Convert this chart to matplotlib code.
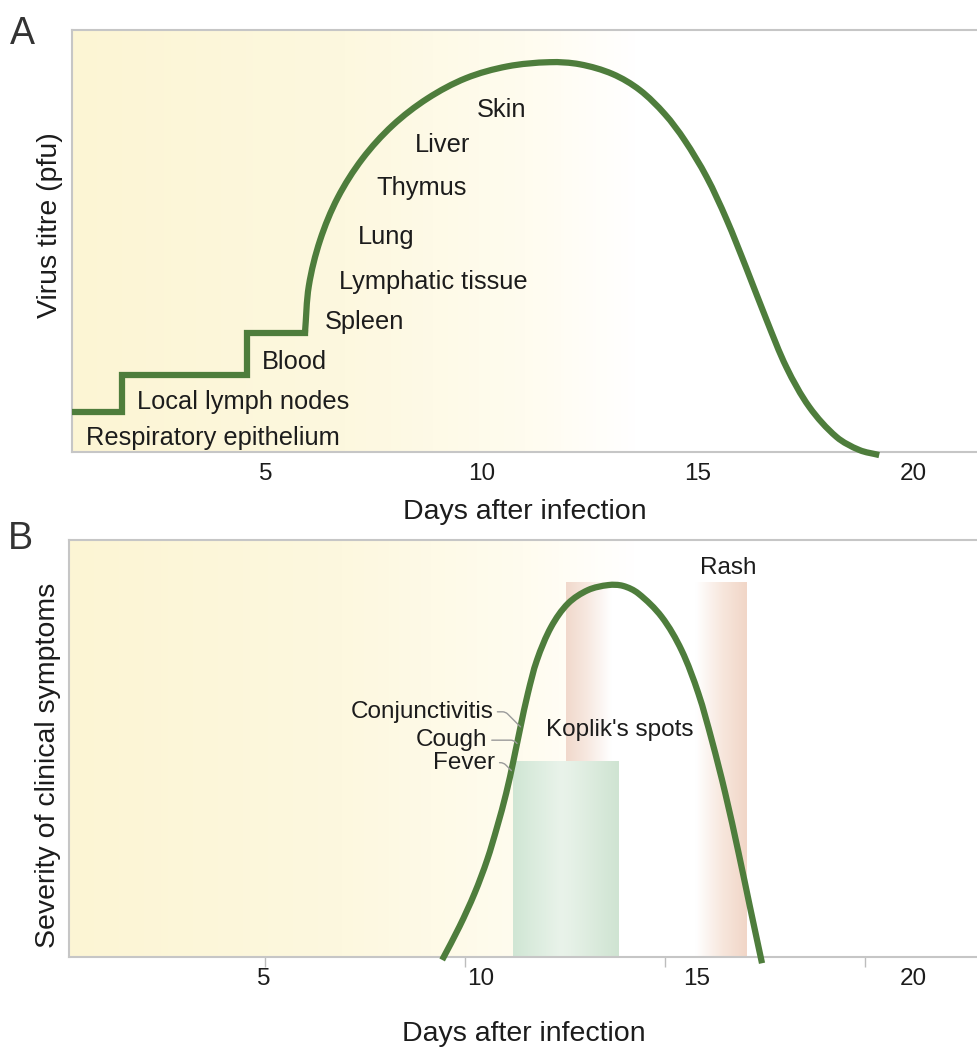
import numpy as np
import matplotlib
matplotlib.use("Agg")
import matplotlib.pyplot as plt
from matplotlib.colors import LinearSegmentedColormap
from matplotlib.path import Path
from matplotlib.patches import PathPatch

plt.rcParams['font.family'] = ['Liberation Sans', 'DejaVu Sans']

# ---- panel A : virus titre ----
step_days = [0.5, 1.67, 1.67, 4.56, 4.56, 5.9]
step_titre = [9.5, 9.5, 18.2, 18.2, 28.2, 28.2]

titre_days = [5.90, 5.99, 6.25, 6.66, 7.23, 7.93, 8.74, 9.63, 10.59, 11.57,
              12.27, 13.03, 13.66, 14.24, 14.70, 15.21, 15.67, 16.13, 16.60, 17.06,
              17.59, 18.22, 18.75, 19.21]
titre_vals = [28.2, 39.4, 50.2, 60.3, 69.5, 77.4, 83.8, 88.6, 91.4, 92.4,
              91.9, 89.6, 85.8, 80.1, 73.9, 65.2, 55.2, 43.6, 31.3, 20.1,
              10.7, 3.6, 0.5, -0.7]

organs = ['Respiratory epithelium', 'Local lymph nodes', 'Blood', 'Spleen',
          'Lymphatic tissue', 'Lung', 'Thymus', 'Liver', 'Skin']
organ_x = [0.82, 2.0, 4.9, 6.35, 6.7, 7.12, 7.56, 8.44, 9.88]
organ_y = [3.3, 11.8, 21.3, 30.8, 40.3, 50.9, 62.6, 72.7, 81.0]

# ---- panel B : clinical symptoms ----
sev_days = [9.12, 9.52, 9.87, 10.16, 10.39, 10.60, 10.77, 10.93, 11.10, 11.31, 11.64,
            12.03, 12.49, 12.96, 13.30, 13.65, 14.19, 14.65, 15.04, 15.35, 15.66,
            15.97, 16.23, 16.51]
sev_vals = [-0.7, 7.3, 15.3, 23.3, 31.2, 39.3, 47.2, 55.2, 63.2, 71.2, 79.2,
            84.8, 88.0, 89.2, 89.0, 87.2, 81.6, 73.6, 63.2, 52.0, 39.3,
            24.9, 12.1, -1.5]

koplik_span = (10.76, 13.19)
koplik_top = 46.8
rash_span = (11.99, 16.16)
rash_top = 89.9

symptoms = ['Conjunctivitis', 'Cough', 'Fever']
symptom_text_x = [10.3, 10.17, 10.35]
symptom_text_y = [58.8, 52.0, 46.6]
symptom_pt_x = [10.93, 10.85, 10.72]
symptom_pt_y = [55.2, 51.2, 44.7]

tick_days = [5, 10, 15, 20]
b_tick_marks = [5.02, 9.65, 14.26, 18.9]

green = '#4e7d3c'
grey = '#c6c6c6'
txt = '#1c1c1c'


def smooth_path(xs, ys, xscale=10.0):
    # cubic hermite through the read points (chord-length tangents), as bezier segments
    pts = np.column_stack([xs, ys]).astype(float)
    sc = np.array([xscale, 1.0])
    d = np.linalg.norm(np.diff(pts * sc, axis=0), axis=1)
    t = np.concatenate([[0], np.cumsum(d)])
    n = len(pts)
    tang = np.zeros_like(pts)
    for i in range(n):
        a, b = max(i - 1, 0), min(i + 1, n - 1)
        tang[i] = (pts[b] - pts[a]) / (t[b] - t[a])
    verts = [pts[0]]
    codes = [Path.MOVETO]
    for i in range(n - 1):
        h = t[i + 1] - t[i]
        verts += [pts[i] + tang[i] * h / 3, pts[i + 1] - tang[i + 1] * h / 3, pts[i + 1]]
        codes += [Path.CURVE4] * 3
    return Path(verts, codes)


fig = plt.figure(figsize=(9.78, 10.49), dpi=100)
axA = fig.add_axes([0.0736, 0.569, 1 - 0.0736, 0.4023])
axB = fig.add_axes([0.0706, 0.0877, 1 - 0.0706, 0.3975])

yellow_fade = LinearSegmentedColormap.from_list(
    'yf', [(0, '#fcf5d4'), (0.3, '#fdf8df'), (0.5, '#fffcef'), (0.62, '#ffffff'), (1, '#ffffff')])
grad = np.linspace(0, 1, 256).reshape(1, -1)

for ax in (axA, axB):
    ax.set_xlim(0.5, 21.5)
    ax.set_ylim(0, 100)
    ax.imshow(grad, cmap=yellow_fade, extent=(0, 1, 0, 1), transform=ax.transAxes,
              aspect='auto', zorder=0)
    for s in ('left', 'top', 'bottom'):
        ax.spines[s].set_color(grey)
        ax.spines[s].set_linewidth(1.5)
    ax.spines['right'].set_visible(False)
    ax.set_yticks([])
    ax.set_xticks(tick_days)
    ax.set_xticklabels([str(d) for d in tick_days], fontsize=17.5, color=txt)
    ax.tick_params(axis='x', length=0, pad=8)

# panel A
axA.plot(step_days, step_titre, color=green, lw=4.5, solid_joinstyle='miter', zorder=3)
axA.add_patch(PathPatch(smooth_path(titre_days, titre_vals), fill=False, edgecolor=green,
                        lw=4.5, capstyle='butt', clip_on=False, zorder=3))
for name, x, y in zip(organs, organ_x, organ_y):
    axA.text(x, y, name, fontsize=18.3, color=txt, va='center', ha='left', zorder=4)
axA.set_xlabel('Days after infection', fontsize=20.5, color=txt, labelpad=10)

# panel B
rash_cmap = LinearSegmentedColormap.from_list(
    'rash', [(0, '#f1d9cc'), (0.1, '#f6e6dd'), (0.25, '#ffffff'), (0.72, '#ffffff'),
             (0.87, '#f7e6dc'), (1, '#f1d6c7')])
axB.imshow(grad, cmap=rash_cmap, extent=(rash_span[0], rash_span[1], 0, rash_top),
           aspect='auto', zorder=1)
kop_cmap = LinearSegmentedColormap.from_list(
    'kop', [(0, '#d0e6d4'), (0.45, '#e9f3ea'), (0.55, '#e6f1e7'), (1, '#cfe4d2')])
axB.imshow(grad, cmap=kop_cmap, extent=(koplik_span[0], koplik_span[1], 0, koplik_top),
           aspect='auto', zorder=2)
axB.set_xlim(0.5, 21.5)
axB.set_ylim(0, 100)

axB.add_patch(PathPatch(smooth_path(sev_days, sev_vals), fill=False, edgecolor=green,
                        lw=4.5, capstyle='butt', clip_on=False, zorder=3))
axB.text(15.74, rash_top + 3.5, 'Rash', fontsize=17.5, color=txt,
         ha='center', va='center')
axB.text(11.53, 54.5, "Koplik's spots", fontsize=17.5, color=txt, ha='left', va='center',
         zorder=4)
for name, tx, ty, px, py in zip(symptoms, symptom_text_x, symptom_text_y,
                                symptom_pt_x, symptom_pt_y):
    axB.annotate(name, xy=(px, py), xytext=(tx, ty), fontsize=17.5, color=txt,
                 ha='right', va='center', zorder=4,
                 arrowprops=dict(arrowstyle='-', color='#9a9a9a', lw=1,
                                 shrinkA=1, shrinkB=0,
                                 connectionstyle='angle,angleA=0,angleB=135,rad=3'))
axB.set_xticks(b_tick_marks, minor=True)
axB.tick_params(axis='x', which='minor', length=7, width=1, color='#bdbdbd', direction='out')
axB.set_xlabel('Days after infection', fontsize=20.5, color=txt, labelpad=22)

fig.text(0.051, 0.785, 'Virus titre (pfu)', rotation=90, fontsize=20.5, color=txt,
         ha='center', va='center')
fig.text(0.049, 0.27, 'Severity of clinical symptoms', rotation=90, fontsize=20.5,
         color=txt, ha='center', va='center')
fig.text(0.010, 0.985, 'A', fontsize=27, color='#333333', ha='left', va='top')
fig.text(0.008, 0.503, 'B', fontsize=27, color='#333333', ha='left', va='top')

fig.savefig('out.png', dpi=100)
